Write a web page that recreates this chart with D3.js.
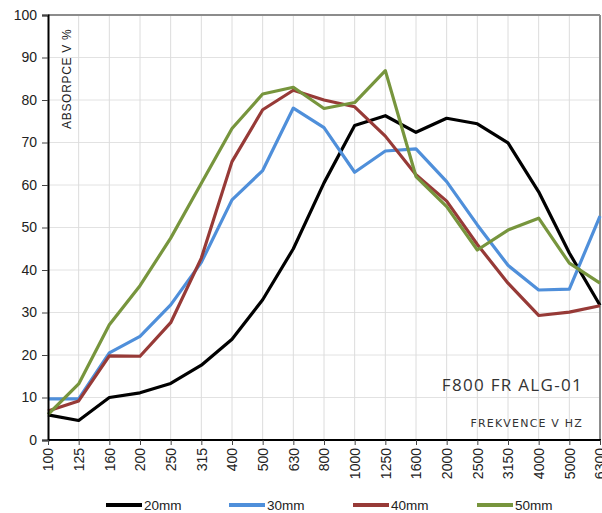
<!DOCTYPE html>
<html><head><meta charset="utf-8">
<script src="https://cdn.jsdelivr.net/npm/d3@7/dist/d3.min.js"></script>
<style>body{margin:0;background:#fff}svg{display:block}</style>
</head><body>
<script>
const categories = ["100","125","160","200","250","315","400","500","630","800","1000","1250","1600","2000","2500","3150","4000","5000","6300"];
const s20 = [5.9,4.6,10,11.1,13.3,17.6,23.7,33,45,60.5,74,76.3,72.4,75.7,74.4,69.9,58.4,44,31.7];
const s30 = [9.7,9.7,20.5,24.4,31.8,41.8,56.5,63.4,78.1,73.5,63,68,68.5,60.8,50.6,41.1,35.3,35.5,52.7];
const s40 = [6.8,9.2,19.8,19.7,27.6,42.8,65.5,77.7,82.3,80,78.4,71.5,62.4,56.2,46,36.9,29.3,30.1,31.6];
const s50 = [6,13.2,27.1,36.3,47.5,60.4,73.3,81.4,83,78,79.4,86.9,62,54.9,44.7,49.4,52.2,41.6,36.9];
const seriesNames = ["20mm","30mm","40mm","50mm"];
const seriesColors = ["#000000","#4f8fda","#973a37","#77953d"];
const yTicks = [0,10,20,30,40,50,60,70,80,90,100];
const yTitle = "ABSORPCE V %";
const chartLabel = "F800 FR ALG-01";
const xTitle = "FREKVENCE V HZ";

(function(){
const W = 602, H = 513;
const pl = 48, pr = 600, pt = 15, pb = 440;
const svg = d3.select("body").append("svg").attr("width", W).attr("height", H);

const x = d3.scalePoint().domain(categories).range([pl, pr]);
const y = d3.scaleLinear().domain([0, 100]).range([pb, pt]);

// grid
svg.append("g").selectAll("line").data(yTicks).join("line")
  .attr("x1", pl).attr("x2", pr).attr("y1", d => y(d)).attr("y2", d => y(d))
  .attr("stroke", "#e2e2e2").attr("stroke-width", 1);
svg.append("g").selectAll("line").data(categories.slice(1)).join("line")
  .attr("x1", d => x(d)).attr("x2", d => x(d)).attr("y1", pt).attr("y2", pb)
  .attr("stroke", "#dcdcdc").attr("stroke-width", 1);

// frame top/right
svg.append("line").attr("x1", pl).attr("x2", pr).attr("y1", pt).attr("y2", pt).attr("stroke", "#8c8c8c").attr("stroke-width", 2);
svg.append("line").attr("x1", pr).attr("x2", pr).attr("y1", pt).attr("y2", pb).attr("stroke", "#8c8c8c").attr("stroke-width", 2);

// text annotations
svg.append("text").attr("transform", `translate(71,129) rotate(-90)`)
  .attr("font-family", "Liberation Sans, Arial, sans-serif").attr("font-size", 12).attr("letter-spacing", 0.7)
  .attr("fill", "#222").text(yTitle);
svg.append("text").attr("x", 583).attr("y", 391).attr("text-anchor", "end")
  .attr("font-family", "Open Sans, sans-serif").attr("font-size", 17).attr("letter-spacing", 1.3)
  .attr("fill", "#333").text(chartLabel);
svg.append("text").attr("x", 583).attr("y", 427).attr("text-anchor", "end")
  .attr("font-family", "DejaVu Sans, sans-serif").attr("font-size", 11).attr("letter-spacing", 1.2)
  .attr("fill", "#333").text(xTitle);

// lines
const line = d3.line().x((d, i) => x(categories[i])).y(d => y(d));
const allSeries = [s20, s30, s40, s50];
svg.append("g").selectAll("path").data(allSeries).join("path")
  .attr("d", d => line(d)).attr("fill", "none")
  .attr("stroke", (d, i) => seriesColors[i]).attr("stroke-width", 3.2)
  .attr("stroke-linejoin", "round");

// axes
const yAxis = svg.append("g").attr("transform", `translate(${pl},0)`)
  .call(d3.axisLeft(y).tickValues(yTicks).tickSize(6).tickPadding(5));
yAxis.select(".domain").attr("stroke", "#000").attr("stroke-width", 2);
yAxis.selectAll(".tick line").attr("stroke", "#444");
yAxis.selectAll("text").attr("font-family", "Liberation Sans, Arial, sans-serif").attr("font-size", 14).attr("fill", "#222");

const xAxis = svg.append("g").attr("transform", `translate(0,${pb})`)
  .call(d3.axisBottom(x).tickSize(5).tickSizeOuter(0));
xAxis.select(".domain").attr("stroke", "#000").attr("stroke-width", 2).attr("d", `M${pl},0H${pr + 1}`);
xAxis.selectAll(".tick line").attr("stroke", "#444");
xAxis.selectAll("text").attr("font-family", "Liberation Sans, Arial, sans-serif").attr("font-size", 14).attr("fill", "#222")
  .attr("transform", "rotate(-90)").attr("text-anchor", "end").attr("x", -8).attr("y", 0).attr("dy", "0.35em");

// legend
const legendX = [106, 229, 353, 477];
const lg = svg.append("g").selectAll("g").data(seriesNames).join("g")
  .attr("transform", (d, i) => `translate(${legendX[i]},505)`);
lg.append("line").attr("x1", 0).attr("x2", 36).attr("y1", 0).attr("y2", 0)
  .attr("stroke", (d, i) => seriesColors[i]).attr("stroke-width", 4);
lg.append("text").attr("x", 38).attr("y", 0).attr("dy", "0.35em")
  .attr("font-family", "Liberation Sans, Arial, sans-serif").attr("font-size", 13.5).attr("fill", "#222")
  .text(d => d);
})();
</script>
</body></html>
